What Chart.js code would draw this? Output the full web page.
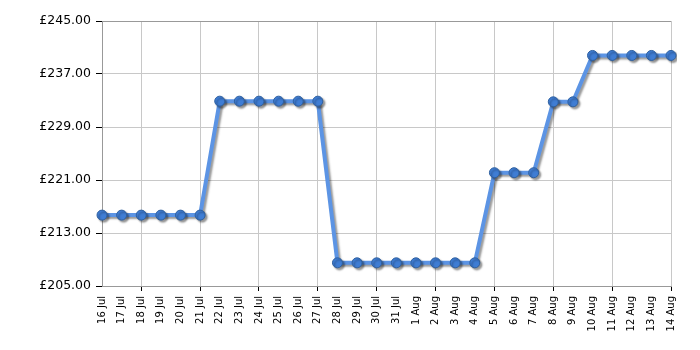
<!DOCTYPE html>
<html>
<head>
<meta charset="utf-8">
<script src="https://cdn.jsdelivr.net/npm/chart.js@4/dist/chart.umd.min.js"></script>
<style>
  html, body { margin: 0; padding: 0; background: #fff; }
  #wrap { width: 700px; height: 350px; }
</style>
</head>
<body>
<div id="wrap"><canvas id="priceChart" width="700" height="350"></canvas></div>
<script>
// Data
const dates = [
  '16 Jul', '17 Jul', '18 Jul', '19 Jul', '20 Jul', '21 Jul', '22 Jul', '23 Jul',
  '24 Jul', '25 Jul', '26 Jul', '27 Jul', '28 Jul', '29 Jul', '30 Jul', '31 Jul',
  '1 Aug', '2 Aug', '3 Aug', '4 Aug', '5 Aug', '6 Aug', '7 Aug', '8 Aug',
  '9 Aug', '10 Aug', '11 Aug', '12 Aug', '13 Aug', '14 Aug'
];
const prices = [
  215.7, 215.7, 215.7, 215.7, 215.7, 215.7,
  232.9, 232.9, 232.9, 232.9, 232.9, 232.9,
  208.5, 208.5, 208.5, 208.5, 208.5, 208.5, 208.5, 208.5,
  222.1, 222.1, 222.1,
  232.8, 232.8,
  239.8, 239.8, 239.8, 239.8, 239.8
];
const yMin = 205;
const yMax = 245;
const yStep = 8;

// grid line every third day, counted back from the last day
const onGrid = (i) => (dates.length - 1 - i) % 3 === 0;

// soft drop shadow under the line and points
const shadowPlugin = {
  id: 'shadow',
  beforeDatasetsDraw(chart) {
    const c = chart.ctx;
    c.save();
    c.shadowColor = 'rgba(0,0,0,0.4)';
    c.shadowOffsetX = 2;
    c.shadowOffsetY = 2;
    c.shadowBlur = 2;
  },
  afterDatasetsDraw(chart) {
    chart.ctx.restore();
  }
};

const ctx = document.getElementById('priceChart').getContext('2d');
new Chart(ctx, {
  type: 'line',
  data: {
    labels: dates,
    datasets: [{
      data: prices,
      borderColor: '#5c94e4',
      borderWidth: 4,
      tension: 0,
      pointRadius: 5,
      pointBackgroundColor: '#3f7dd4',
      pointBorderColor: '#2f609f',
      pointBorderWidth: 1,
      fill: false
    }]
  },
  options: {
    responsive: false,
    animation: false,
    layout: { padding: { left: 0, right: 29, top: 21, bottom: 0 } },
    plugins: { legend: { display: false }, tooltip: { enabled: false } },
    scales: {
      x: {
        afterFit: (s) => { s.height = 64; },
        grid: {
          color: (c) => onGrid(c.index) ? '#c8c8c8' : 'rgba(0,0,0,0)',
          tickColor: (c) => onGrid(c.index) ? '#000' : 'rgba(0,0,0,0)',
          tickLength: 5,
          lineWidth: 1
        },
        border: { color: '#999' },
        ticks: {
          autoSkip: false,
          minRotation: 90,
          maxRotation: 90,
          padding: 5,
          color: '#000',
          font: { family: 'DejaVu Sans', size: 10 }
        }
      },
      y: {
        min: yMin,
        max: yMax,
        afterFit: (s) => { s.width = 102; },
        grid: {
          color: (c) => c.tick && c.tick.value === yMax ? '#999' : '#c8c8c8',
          tickColor: '#000',
          tickLength: 6
        },
        border: { color: '#999' },
        ticks: {
          stepSize: yStep,
          padding: 5,
          color: '#000',
          font: { family: 'DejaVu Sans', size: 12.5 },
          callback: (v) => '£' + Number(v).toFixed(2)
        }
      }
    }
  },
  plugins: [shadowPlugin]
});
</script>
</body>
</html>
